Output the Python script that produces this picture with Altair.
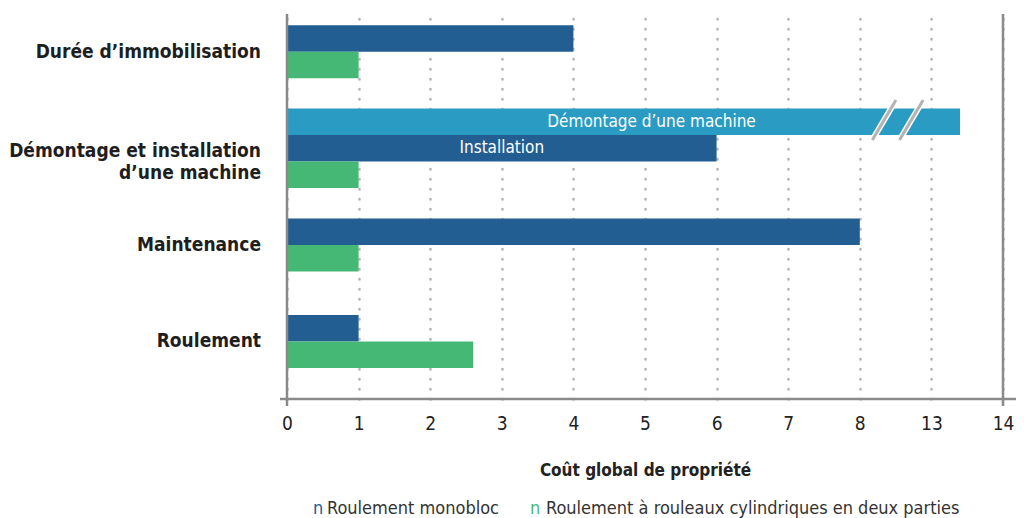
import altair as alt
import numpy as np
import pandas as pd

# ---------------- data ----------------
categories = ["Durée d’immobilisation", "Démontage et installation\nd’une machine", "Maintenance", "Roulement"]
series = ["Démontage d’une machine", "Roulement monobloc", "Roulement à rouleaux cylindriques en deux parties"]
demontage = [None, 13.4, None, None]
monobloc = [4, 6, 8, 1]
cylindrique = [1, 1, 1, 2.6]
inbar_labels = {("Démontage et installation\nd’une machine", "Démontage d’une machine"): "Démontage d’une machine",
                ("Démontage et installation\nd’une machine", "Roulement monobloc"): "Installation"}
tick_values = [0, 1, 2, 3, 4, 5, 6, 7, 8, 13, 14]
tick_labels = ["0", "1", "2", "3", "4", "5", "6", "7", "8", "13", "14"]
legend_labels = ["Roulement monobloc", "Roulement à rouleaux cylindriques en deux parties"]
colors = ["#2a9bc3", "#235e93", "#44b874"]

FONT = "Liberation Sans Narrow, DejaVu Sans Condensed, Roboto Condensed, Arial Narrow, sans-serif"

# broken axis: value -> slot position (0..10)
positions = list(range(len(tick_values)))
def to_pos(v):
    return float(np.interp(v, tick_values, positions))

t = 0.2745  # bar thickness in category units
rows = []
for i, cat in enumerate(categories):
    vals = [(s, v) for s, v in zip(series, [demontage[i], monobloc[i], cylindrique[i]]) if v is not None]
    n = len(vals)
    for j, (s, v) in enumerate(vals):
        c = i + (j - (n - 1) / 2) * t
        p = to_pos(v)
        rows.append(dict(cat=cat, series=s, value=v, pos=p, start=0.0,
                         y0=c - t / 2, y1=c + t / 2, yc=c, mid=p / 2,
                         label=inbar_labels.get((cat, s), "")))
bars_df = pd.DataFrame(rows)

W, H = 716, 385
yscale = alt.Scale(domain=[-0.3915, 3.596], reverse=True, nice=False, zero=False)
xscale = alt.Scale(domain=[0, 10], nice=False, zero=False)
label_expr = "[" + ",".join("'%s'" % l for l in tick_labels) + "][datum.value]"

xaxis = alt.Axis(values=positions, labelExpr=label_expr, grid=True,
                 gridDash=[0.5, 9.5], gridColor="#b5b5b5", gridWidth=2.6, gridCap="round",
                 domain=False, ticks=False, labelFontSize=19, labelFont=FONT,
                 labelColor="#222222", labelPadding=15, labelFlush=False, labelOverlap=False,
                 title="Coût global de propriété", titleFont=FONT, titleFontSize=17,
                 titleFontWeight="bold", titleColor="#222222", titlePadding=29)

def X(field):
    return alt.X(field, scale=xscale, axis=xaxis)

def Y(field):
    return alt.Y(field, scale=yscale, axis=None)

base = alt.Chart(bars_df)

bars = base.mark_bar().encode(
    x=X("start:Q"), x2="pos:Q",
    y=Y("y0:Q"), y2="y1:Q",
    color=alt.Color("series:N", scale=alt.Scale(domain=series, range=colors), legend=None),
)

lab_inst = alt.Chart(bars_df[bars_df["label"] == "Installation"]).mark_text(
    font=FONT, fontSize=17, color="white", baseline="middle", align="center"
).encode(x=X("mid:Q"), y=Y("yc:Q"), text="label:N")

lab_dem = alt.Chart(bars_df[bars_df["label"] == "Démontage d’une machine"]).mark_text(
    font=FONT, fontSize=17, color="white", baseline="middle", align="center", dx=28
).encode(x=X("mid:Q"), y=Y("yc:Q"), text="label:N")

# break slashes on the long bar
long_bar = bars_df[bars_df["series"] == series[0]].iloc[0]
brk = (to_pos(8) + to_pos(13)) / 2 + 0.03
slash_rows = []
for c in (brk - 0.19, brk + 0.19):
    slash_rows.append(dict(xa=c - 0.165, xb=c + 0.165, ya=long_bar.y1 + 0.05, yb=long_bar.y0 - 0.09))
slash_df = pd.DataFrame(slash_rows)
slash_enc = dict(x=X("xa:Q"), x2="xb:Q", y=Y("ya:Q"), y2="yb:Q")
slash_white = alt.Chart(slash_df).mark_rule(color="white", strokeWidth=6).encode(**slash_enc)
slash_gray = alt.Chart(slash_df).mark_rule(color="#b3b3b3", strokeWidth=3).encode(**slash_enc)

# frame: left/right verticals and bottom line
frame_df = pd.DataFrame({"p": [float(positions[0]), float(positions[-1])]})
frame_v = alt.Chart(frame_df).mark_rule(color="#8a8a8a", strokeWidth=2.5).encode(
    x=X("p:Q"), y=alt.value(0), y2=alt.value(H + 7))
frame_h = alt.Chart(frame_df.head(1)).mark_rule(color="#8a8a8a", strokeWidth=2.5).encode(
    x=alt.value(-7), x2=alt.value(W + 13), y=alt.value(H))

# category labels
cat_df = pd.DataFrame({"cat": categories, "i": range(len(categories))})
cat_df["lines"] = cat_df["cat"].str.count("\n")
cat_df["ly"] = cat_df["i"] + cat_df["lines"] * 0.03
cat_labels = alt.Chart(cat_df).mark_text(
    font=FONT, fontSize=19, fontWeight="bold", color="#1e1e1e", align="right",
    baseline="middle", lineBreak="\n", lineHeight=22
).encode(x=alt.value(-26), y=Y("ly:Q"), text="cat:N")

# legend
leg = []
leg_x = [(26, 40), (243, 259)]
for k, lab in enumerate(legend_labels):
    nx, tx = leg_x[k]
    leg.append(alt.Chart(pd.DataFrame({"t": ["n"]})).mark_text(
        font=FONT, fontSize=18, color=colors[k + 1], align="left", baseline="middle"
    ).encode(x=alt.value(nx), y=alt.value(495), text="t:N"))
    leg.append(alt.Chart(pd.DataFrame({"t": [lab]})).mark_text(
        font=FONT, fontSize=18, color="#333333", align="left", baseline="middle"
    ).encode(x=alt.value(tx), y=alt.value(495), text="t:N"))

chart = alt.layer(bars, lab_inst, lab_dem, slash_white, slash_gray, frame_v, frame_h,
                  cat_labels, *leg).properties(
    width=W, height=H,
    autosize=alt.AutoSizeParams(type="none"),
    padding={"left": 279, "top": 6, "right": 13, "bottom": 120},
    background="white",
).configure_view(stroke=None)

chart.save("out.html", embed_options={"renderer": "svg", "actions": False})
